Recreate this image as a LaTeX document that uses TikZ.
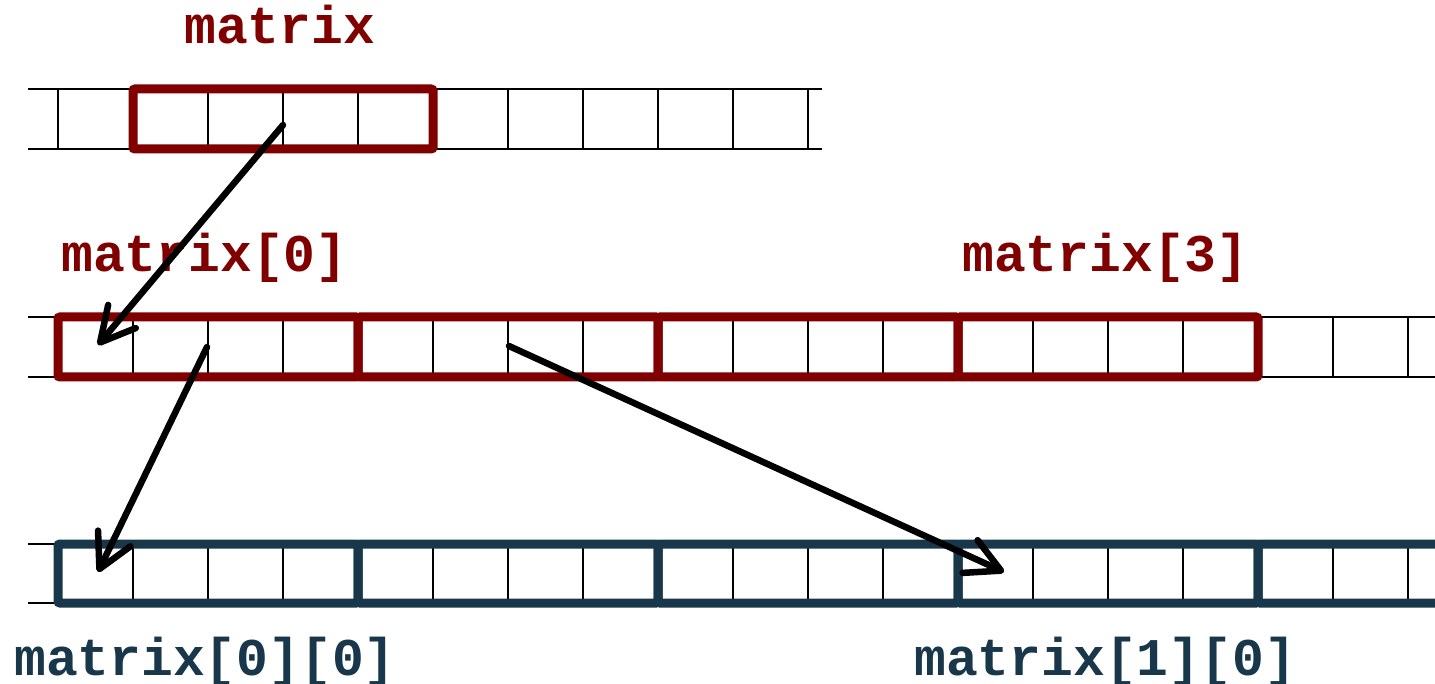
\documentclass[tikz,border=0pt]{standalone}
\usepackage{fontspec}
\setmonofont{Liberation Mono}
\usetikzlibrary{arrows.meta}
\definecolor{dred}{RGB}{128,0,0}
\definecolor{dblue}{RGB}{25,55,75}
\begin{document}
\begin{tikzpicture}[x=1pt,y=-1pt,
  thincell/.style={line width=1.5pt,black},
  redbox/.style={draw=dred,line width=9pt,rounded corners=2pt},
  bluebox/.style={draw=dblue,line width=9pt,rounded corners=2pt},
  lbl/.style={font=\ttfamily\bfseries\fontsize{53}{60}\selectfont,anchor=base west,inner sep=0pt},
  ptr/.style={line width=6.5pt,line cap=round,-{Straight Barb[length=34pt,width=36pt,round]}}]
\useasboundingbox (0,0) rectangle (1435,684);
\clip (0,0) rectangle (1435,684);
% row 1
\draw[thincell] (28,89) -- (822,89) (28,149) -- (822,149);
\foreach \x in {58,133,...,808} \draw[thincell] (\x,89) -- (\x,149);
\draw[redbox] (133,89) rectangle (433,149);
% row 2
\draw[thincell] (28,317) -- (1440,317) (28,377) -- (1440,377);
\foreach \x in {133,208,...,1408} \draw[thincell] (\x,317) -- (\x,377);
\foreach \x in {58,358,658,958} \draw[redbox] (\x,317) rectangle ++(300,60);
% row 3
\draw[thincell] (28,544) -- (58,544) (28,603) -- (58,603);
\foreach \x in {133,208,...,1408} \draw[thincell] (\x,544) -- (\x,603);
\foreach \x in {58,358,658,958,1258} \draw[bluebox] (\x,544) rectangle ++(300,59);
% labels
\node[lbl,text=dred] (lm) at (184,44) {matrix};
\node[lbl,text=dred] (lm0) at (61,272) {matrix[0]};
\node[lbl,text=dred] (lm3) at (962,272) {matrix[3]};
\node[lbl,text=dblue] (lm00) at (14,675) {matrix[0][0]};
\node[lbl,text=dblue] (lm10) at (914,675) {matrix[1][0]};
% arrows
\coordinate (a1s) at (283,125); \coordinate (a1e) at (98,345);
\coordinate (a2s) at (207,347); \coordinate (a2e) at (98,572);
\coordinate (a3s) at (509,346); \coordinate (a3e) at (1004,572);
\draw[ptr] (a1s) -- (a1e);
\draw[ptr] (a2s) -- (a2e);
\draw[ptr] (a3s) -- (a3e);
\end{tikzpicture}
\end{document}
